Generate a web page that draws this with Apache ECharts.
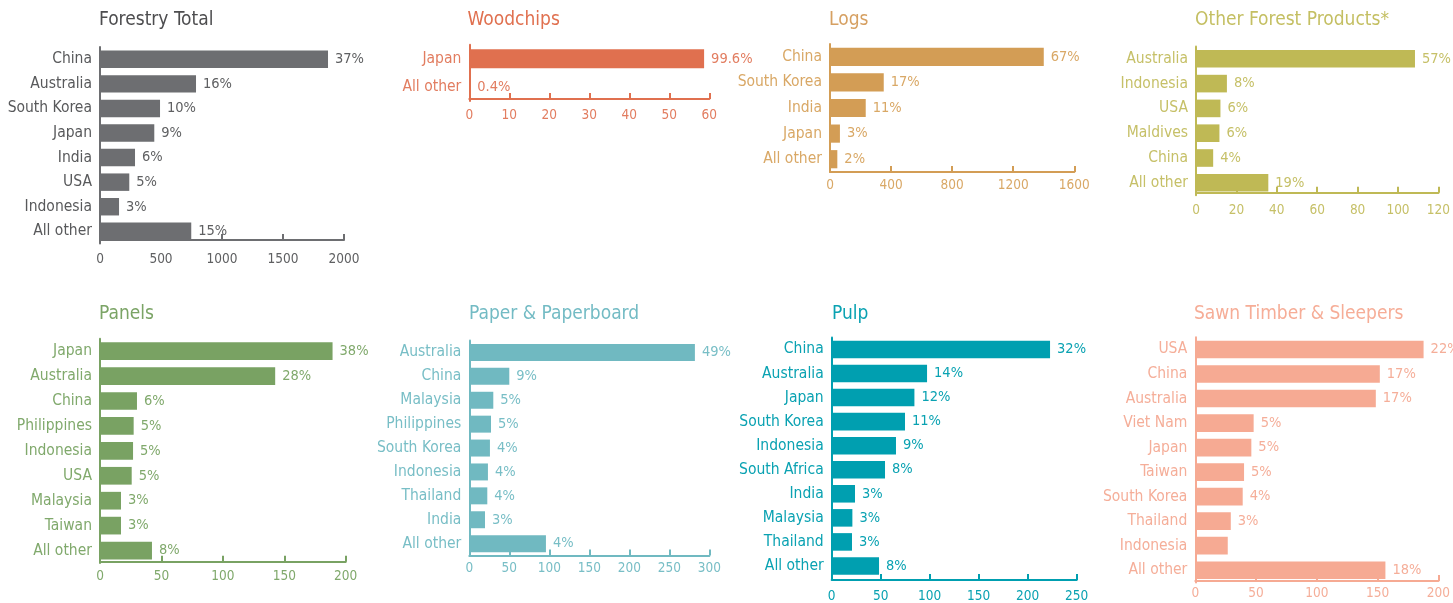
<!DOCTYPE html>
<html><head><meta charset="utf-8">
<script src="https://cdn.jsdelivr.net/npm/echarts@6/dist/echarts.min.js"></script>
<style>html,body{margin:0;padding:0;background:#fff}#c{width:1453px;height:603px}</style>
</head><body><div id="c"></div>
<script>
// ---- data ----
const forestryCats = ['China','Australia','South Korea','Japan','India','USA','Indonesia','All other'];
const forestryVals = [1869, 787, 492, 445, 287, 240, 156, 748];
const forestryPct  = ['37%','16%','10%','9%','6%','5%','3%','15%'];

const woodchipsCats = ['Japan','All other'];
const woodchipsVals = [58.7, 0.24];
const woodchipsPct  = ['99.6%','0.4%'];

const logsCats = ['China','South Korea','India','Japan','All other'];
const logsVals = [1400, 352, 234, 65, 48];
const logsPct  = ['67%','17%','11%','3%','2%'];

const otherCats = ['Australia','Indonesia','USA','Maldives','China','All other'];
const otherVals = [108.4, 15.3, 12.1, 11.6, 8.5, 35.8];
const otherPct  = ['57%','8%','6%','6%','4%','19%'];

const panelsCats = ['Japan','Australia','China','Philippines','Indonesia','USA','Malaysia','Taiwan','All other'];
const panelsVals = [189.3, 142.6, 30.1, 27.4, 26.9, 25.8, 17.1, 17.1, 42.3];
const panelsPct  = ['38%','28%','6%','5%','5%','5%','3%','3%','8%'];

const paperCats = ['Australia','China','Malaysia','Philippines','South Korea','Indonesia','Thailand','India','All other'];
const paperVals = [282, 50, 30, 27.1, 25.8, 23.3, 22.5, 19.6, 95.8];
const paperPct  = ['49%','9%','5%','5%','4%','4%','4%','3%','4%'];

const pulpCats = ['China','Australia','Japan','South Korea','Indonesia','South Africa','India','Malaysia','Thailand','All other'];
const pulpVals = [222.8, 97.3, 84.4, 74.8, 65.6, 54.4, 23.8, 21.1, 20.7, 48.3];
const pulpPct  = ['32%','14%','12%','11%','9%','8%','3%','3%','3%','8%'];

const sawnCats = ['USA','China','Australia','Viet Nam','Japan','Taiwan','South Korea','Thailand','Indonesia','All other'];
const sawnVals = [187.8, 151.8, 148.5, 48, 46.1, 40.1, 39, 29.2, 26.7, 156.4];
const sawnPct  = ['22%','17%','17%','5%','5%','5%','4%','3%','','18%'];

const axisMax      = [2000, 60, 1600, 120, 200, 300, 250, 200];
const axisInterval = [500, 10, 400, 20, 50, 50, 50, 50];
const titles = ['Forestry Total','Woodchips','Logs','Other Forest Products*','Panels','Paper & Paperboard','Pulp','Sawn Timber & Sleepers'];

// ---- styling / layout ----
const FONT = "'DejaVu Sans Condensed', 'DejaVu Sans', sans-serif";
const panels = [
  {cats:forestryCats, vals:forestryVals, pct:forestryPct, bar:'#6d6e71', text:'#5f6062', title:'#4d4d4f',
   grid:{left:100, top:47, width:244, height:196.6}, off:-3.5, lm:12, tl:[99,11], gap:'29%'},
  {cats:woodchipsCats, vals:woodchipsVals, pct:woodchipsPct, bar:'#e0704f', text:'#e27d60', title:'#e0704f',
   grid:{left:469.3, top:44.7, width:240, height:56.4}, off:-2, lm:9, tl:[467.5,11], gap:'33%'},
  {cats:logsCats, vals:logsVals, pct:logsPct, bar:'#d39d55', text:'#d9a866', title:'#d6a062',
   grid:{left:830, top:44, width:244.3, height:128}, off:0, lm:6, tl:[829,11], gap:'29%'},
  {cats:otherCats, vals:otherVals, pct:otherPct, bar:'#bfb955', text:'#c6c068', title:'#c4bf62',
   grid:{left:1196, top:46.4, width:245, height:148.8}, off:-2.5, lm:11, tl:[1195,11], gap:'29%'},
  {cats:panelsCats, vals:panelsVals, pct:panelsPct, bar:'#79a263', text:'#80a96c', title:'#7ba466',
   grid:{left:100, top:338.7, width:245.7, height:224.3}, off:-1.3, lm:8, tl:[99,305], gap:'29%'},
  {cats:paperCats, vals:paperVals, pct:paperPct, bar:'#70b9c1', text:'#78bec6', title:'#73bbc4',
   grid:{left:469.3, top:340.5, width:240, height:215.1}, off:0, lm:6, tl:[469,305], gap:'29%'},
  {cats:pulpCats, vals:pulpVals, pct:pulpPct, bar:'#009fb0', text:'#0aa2b2', title:'#0aa2b2',
   grid:{left:831.7, top:337.4, width:245, height:241.7}, off:2, lm:9, tl:[832,305], gap:'27%'},
  {cats:sawnCats, vals:sawnVals, pct:sawnPct, bar:'#f6aa93', text:'#f5ae99', title:'#f6ad97',
   grid:{left:1195.3, top:337.2, width:244.7, height:245.3}, off:-1.5, lm:5, tl:[1194,305], gap:'28%'}
];

const option = {animation:false, backgroundColor:'#fff', title:[], grid:[], xAxis:[], yAxis:[], series:[]};
panels.forEach((p, i) => {
  option.title.push({text:titles[i], left:p.tl[0], top:p.tl[1], padding:0,
    textStyle:{fontFamily:FONT, fontSize:19, fontWeight:'normal', color:p.title}});
  option.grid.push(Object.assign({containLabel:false}, p.grid));
  option.xAxis.push({type:'value', gridIndex:i, min:0, max:axisMax[i], interval:axisInterval[i], offset:p.off,
    splitLine:{show:false},
    axisLine:{show:true, lineStyle:{color:p.bar, width:2}},
    axisTick:{show:true, inside:true, length:6, lineStyle:{color:p.bar, width:2}},
    axisLabel:{show:true, margin:p.lm, color:p.text, fontFamily:FONT, fontSize:13.5,
      formatter:(v) => String(v)}});
  option.yAxis.push({type:'category', gridIndex:i, inverse:true, data:p.cats,
    axisLine:{show:true, lineStyle:{color:p.bar, width:2}},
    axisTick:{show:false},
    axisLabel:{margin:8, color:i===0?'#58595b':p.text, fontFamily:FONT, fontSize:15.5}});
  option.series.push({type:'bar', xAxisIndex:i, yAxisIndex:i, data:p.vals, barCategoryGap:p.gap,
    itemStyle:{color:p.bar},
    label:{show:true, position:'right', distance:7, color:p.text, fontFamily:FONT, fontSize:14.5,
      formatter:(prm) => p.pct[prm.dataIndex]}});
});
const chart = echarts.init(document.getElementById('c'), null, {renderer:'canvas'});
chart.setOption(option);
</script>
</body></html>
